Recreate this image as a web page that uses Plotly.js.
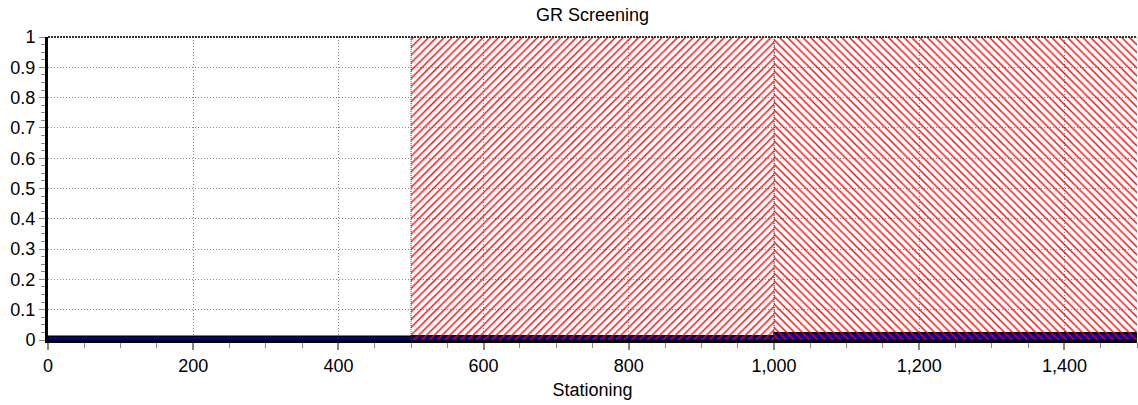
<!DOCTYPE html>
<html><head><meta charset="utf-8">
<script src="https://cdn.plot.ly/plotly-3.0.1.min.js"></script>
<style>html,body{margin:0;padding:0;background:#fff}#chart{width:1138px;height:405px}</style>
</head><body><div id="chart"></div>
<script>
// Segments along stationing
const segStart = [0, 500, 1000];
const segEnd = [500, 1000, 1500];
const grValues = [0.012, 0.014, 0.024];
// Screening flags (1 = flagged), hatch direction per segment
const screenValues = [0, 1, 1];
const screenHatch = ["", "/", "\\"];
const xTickVals = [0, 200, 400, 600, 800, 1000, 1200, 1400];
const yTickVals = [0, 0.1, 0.2, 0.3, 0.4, 0.5, 0.6, 0.7, 0.8, 0.9, 1];

const mid = segStart.map((s, i) => (s + segEnd[i]) / 2);
const wid = segStart.map((s, i) => segEnd[i] - s);

const traces = [];
traces.push({
  type: 'bar', x: mid, y: grValues, width: wid,
  marker: {color: '#0000a8', line: {color: '#000', width: 1.5}},
  hoverinfo: 'skip', showlegend: false
});
segStart.forEach((s, i) => {
  if (!screenValues[i]) return;
  traces.push({
    type: 'bar', x: [mid[i]], y: [screenValues[i]], width: [wid[i]],
    marker: {color: 'rgba(0,0,0,0)', line: {width: 0},
      pattern: {shape: screenHatch[i], fgcolor: '#ff0000', bgcolor: 'rgba(0,0,0,0)', size: 5.5, solidity: 0.25, fillmode: 'replace'}},
    hoverinfo: 'skip', showlegend: false
  });
  traces.push({
    type: 'scatter', mode: 'lines', x: [s, s], y: [0, screenValues[i]],
    line: {color: '#ff0000', width: 1, dash: '1px,1px'}, hoverinfo: 'skip', showlegend: false
  });
});

const font = {family: 'Liberation Sans, Arial, sans-serif', color: '#000'};
const layout = {
  width: 1138, height: 405,
  margin: {l: 48, r: 1, t: 37, b: 65},
  paper_bgcolor: '#fff', plot_bgcolor: '#fff',
  barmode: 'overlay', bargap: 0,
  font: Object.assign({size: 18}, font),
  title: {text: 'GR Screening', x: 0.5, xref: 'paper', y: 0.963, yanchor: 'middle', font: Object.assign({size: 18}, font)},
  xaxis: {
    range: [0, 1500], tickvals: xTickVals, tickformat: ',d',
    showgrid: true, gridcolor: '#888', griddash: '1px,2px', gridwidth: 1,
    ticks: 'outside', ticklen: 7, tickcolor: '#888', tickwidth: 2,
    minor: {dtick: 50, ticks: 'outside', ticklen: 5, tickcolor: '#888', tickwidth: 1, showgrid: false},
    showline: true, linecolor: '#000', linewidth: 3, zeroline: false,
    tickfont: Object.assign({size: 18}, font),
    title: {text: 'Stationing', font: Object.assign({size: 18}, font), standoff: 9}
  },
  yaxis: {
    range: [0, 1], tickvals: yTickVals,
    showgrid: true, gridcolor: '#888', griddash: '1px,2px', gridwidth: 1,
    ticks: 'outside', ticklen: 6, tickcolor: '#888', tickwidth: 1,
    minor: {dtick: 0.025, ticks: 'outside', ticklen: 4, tickcolor: '#888', tickwidth: 1, showgrid: false},
    showline: true, linecolor: '#000', linewidth: 3, zeroline: false,
    tickfont: Object.assign({size: 18}, font)
  },
  shapes: [{type: 'line', xref: 'paper', yref: 'paper', x0: 0, x1: 1, y0: 1, y1: 1,
    line: {color: '#333', width: 2, dash: '2px,1px'}}]
};
Plotly.newPlot('chart', traces, layout, {displayModeBar: false, staticPlot: true});
</script></body></html>
